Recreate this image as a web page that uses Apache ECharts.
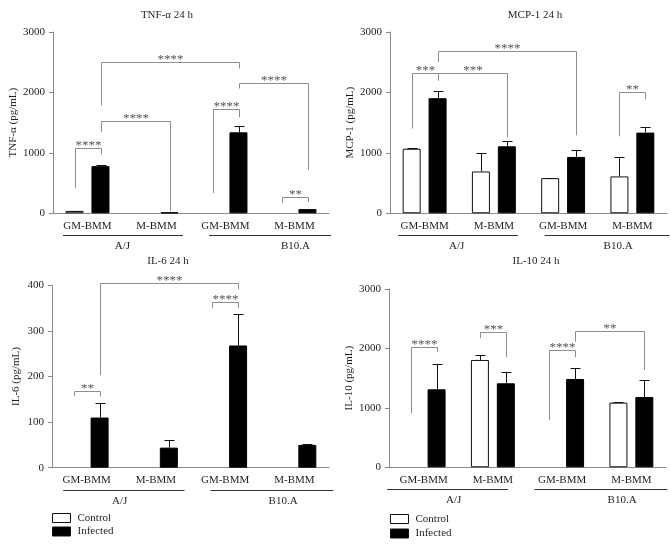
<!DOCTYPE html>
<html>
<head>
<meta charset="utf-8">
<script src="https://cdn.jsdelivr.net/npm/echarts@6/dist/echarts.min.js"></script>
<style>
html,body{margin:0;padding:0;background:#fff;}
#chart{width:671px;height:546px;}
</style>
</head>
<body>
<div id="chart"></div>
<script>
// ---------------- DATA ----------------
const categories = ['GM-BMM', 'M-BMM', 'GM-BMM', 'M-BMM'];
const strains = ['A/J', 'B10.A'];
const groupNames = ['Control', 'Infected'];
const titles = ['TNF-α 24 h', 'MCP-1 24 h', 'IL-6 24 h', 'IL-10 24 h'];
const yNames = ['TNF-α (pg/mL)', 'MCP-1 (pg/mL)', 'IL-6 (pg/mL)', 'IL-10 (pg/mL)'];
const yMax = [3000, 3000, 400, 3000];
const yInterval = [1000, 1000, 100, 1000];

// TNF-α
const tnfControl = [40, null, null, null];
const tnfControlErr = [4, null, null, null];
const tnfInfected = [780, 15, 1340, 70];
const tnfInfectedErr = [20, 4, 110, 4];
// MCP-1
const mcpControl = [1068, 692, 582, 610];
const mcpControlErr = [15, 305, 5, 320];
const mcpInfected = [1905, 1108, 933, 1335];
const mcpInfectedErr = [115, 88, 122, 85];
// IL-6
const il6Control = [null, null, null, null];
const il6ControlErr = [null, null, null, null];
const il6Infected = [110, 44, 268, 50];
const il6InfectedErr = [32, 16, 70, 2];
// IL-10
const il10Control = [null, 1806, null, 1088];
const il10ControlErr = [null, 90, null, 17];
const il10Infected = [1312, 1413, 1486, 1183];
const il10InfectedErr = [420, 185, 190, 280];

// significance brackets: [fromCat, fromGroup, toCat, toGroup, topValue, leftLegEnd, rightLegEnd, label]
const tnfBrackets = [
  [0, 0, 0, 1, 1081, 417, 977, '****'],
  [0, 1, 1, 1, 1521, 1340, 40, '****'],
  [0, 1, 2, 1, 2510, 1785, 2395, '****'],
  [2, 0, 2, 1, 1719, 335, 1587, '****'],
  [2, 1, 3, 1, 2164, 2065, 714, '****'],
  [3, 0, 3, 1, 269, 170, 186, '**']
];
const mcpBrackets = [
  [0, 0, 0, 1, 2317, 1401, 2197, '***'],
  [0, 1, 1, 1, 2317, 2197, 1263, '***'],
  [0, 1, 2, 1, 2680, 2499, 1290, '****'],
  [3, 0, 3, 1, 2004, 1274, 1884, '**']
];
const il6Brackets = [
  [0, 0, 0, 1, 169, 157, 156, '**'],
  [0, 1, 2, 1, 404, 203, 391, '****'],
  [2, 0, 2, 1, 363, 350, 350, '****']
];
const il10Brackets = [
  [0, 0, 0, 1, 2029, 909, 1945, '****'],
  [1, 0, 1, 1, 2282, 2171, 1851, '***'],
  [2, 0, 2, 1, 1974, 796, 1851, '****'],
  [2, 1, 3, 1, 2293, 2113, 1637, '**']
];

const panelData = [
  {control: tnfControl, controlErr: tnfControlErr, infected: tnfInfected, infectedErr: tnfInfectedErr, brackets: tnfBrackets},
  {control: mcpControl, controlErr: mcpControlErr, infected: mcpInfected, infectedErr: mcpInfectedErr, brackets: mcpBrackets},
  {control: il6Control, controlErr: il6ControlErr, infected: il6Infected, infectedErr: il6InfectedErr, brackets: il6Brackets},
  {control: il10Control, controlErr: il10ControlErr, infected: il10Infected, infectedErr: il10InfectedErr, brackets: il10Brackets}
];

// ---------------- LAYOUT / STYLE ----------------
const FONT = 'Liberation Serif';
const TXT = '#231f20';
const AXIS = '#8a8a8a';
const BRK = '#8f8f8f';
const layout = [
  {grid: {left: 53, top: 32, width: 276, height: 181.3}, title: [162, 5], nameGap: 31,
   spans: [[-24.5, 26.5], [-16.5, 36.5]], labelDx: [35, 70]},
  {grid: {left: 390, top: 32, width: 277, height: 181.3}, title: [530, 5], nameGap: 34,
   spans: [[-26.4, 24], [-18.4, 37]], labelDx: [32, 55]},
  {grid: {left: 52, top: 285.3, width: 277, height: 182.4}, title: [163, 251], nameGap: 30,
   spans: [[-23.4, 28.6], [-14.7, 39]], labelDx: [33, 58]},
  {grid: {left: 389, top: 289, width: 277, height: 178.3}, title: [531, 251], nameGap: 32,
   spans: [[-36.5, 15], [-27.8, 36]], labelDx: [30, 60]}
];
const legendPos = [[52, 512.5], [52, 526], [390, 513.5], [390, 528]];
const HALF = 13; // bar centre offset from category centre (barWidth 18 + gap 8)
const px = v => Math.round(v) + 0.5;

const chart = echarts.init(document.getElementById('chart'));

const grids = [], xAxes = [], yAxes = [], series = [], titleOpts = [];

layout.forEach((L, p) => {
  grids.push(L.grid);
  titleOpts.push({
    text: titles[p], left: L.title[0], top: L.title[1], textAlign: 'center',
    textStyle: {fontFamily: FONT, fontSize: 11, fontWeight: 'normal', color: TXT}
  });
  xAxes.push({
    type: 'category', gridIndex: p, data: categories,
    axisLine: {lineStyle: {color: AXIS, width: 1}},
    axisTick: {alignWithLabel: true, length: 4, lineStyle: {color: AXIS}},
    axisLabel: {fontFamily: FONT, fontSize: 11, color: TXT, margin: 7},
    splitLine: {show: false}
  });
  yAxes.push({
    type: 'value', gridIndex: p, min: 0, max: yMax[p], interval: yInterval[p],
    name: yNames[p], nameLocation: 'middle', nameGap: L.nameGap,
    nameTextStyle: {fontFamily: FONT, fontSize: 11, color: TXT},
    axisLine: {show: true, lineStyle: {color: AXIS, width: 1}},
    axisTick: {show: true, length: 4, lineStyle: {color: AXIS}},
    axisLabel: {fontFamily: FONT, fontSize: 11, color: TXT, margin: 8,
                formatter: v => String(v)},
    splitLine: {show: false}
  });

  const D = panelData[p];
  series.push({
    name: groupNames[0], type: 'bar', xAxisIndex: p, yAxisIndex: p,
    data: D.control, barWidth: 18, barGap: '44%',
    itemStyle: {color: '#ffffff', borderColor: '#111', borderWidth: 1}, z: 2
  });
  series.push({
    name: groupNames[1], type: 'bar', xAxisIndex: p, yAxisIndex: p,
    data: D.infected, barWidth: 18, barGap: '44%',
    itemStyle: {color: '#000000', borderColor: '#000', borderWidth: 1}, z: 2
  });

  [[D.control, D.controlErr, -1], [D.infected, D.infectedErr, 1]].forEach(([vals, errs, side]) => {
    const data = [];
    vals.forEach((v, i) => { if (v != null && errs[i] != null) data.push([i, v, errs[i]]); });
    series.push({
      type: 'custom', xAxisIndex: p, yAxisIndex: p, z: 3, silent: true, data,
      renderItem: (params, api) => {
        const c = api.value(0), v = api.value(1), e = api.value(2);
        const a = api.coord([c, v]), b = api.coord([c, v + e]);
        const x = px(a[0] + side * HALF);
        const yb = Math.round(b[1]) + 0.5;
        const st = {stroke: '#111', lineWidth: 1, fill: null};
        return {type: 'group', children: [
          {type: 'line', shape: {x1: x, y1: a[1], x2: x, y2: yb}, style: st},
          {type: 'line', shape: {x1: x - 5, y1: yb, x2: x + 5, y2: yb}, style: st}
        ]};
      }
    });
  });

  // significance brackets
  const br = D.brackets;
  series.push({
    type: 'custom', xAxisIndex: p, yAxisIndex: p, z: 4, silent: true, clip: false,
    data: br.map(b => [b[0], b[4]]),
    renderItem: (params, api) => {
      const b = br[params.dataIndex];
      const xa = px(api.coord([b[0], 0])[0] + (b[1] ? HALF : -HALF));
      const xb = px(api.coord([b[2], 0])[0] + (b[3] ? HALF : -HALF));
      const yt = px(api.coord([0, b[4]])[1]);
      const yl = api.coord([0, b[5]])[1];
      const yr = api.coord([0, b[6]])[1];
      return {type: 'group', children: [
        {type: 'polyline', shape: {points: [[xa, yl], [xa, yt], [xb, yt], [xb, yr]]},
         style: {stroke: BRK, lineWidth: 1, fill: null}},
        {type: 'text', x: (xa + xb) / 2, y: yt + 4,
         style: {text: b[7], align: 'center', verticalAlign: 'bottom', fill: '#555',
                 font: '13px "' + FONT + '"'}}
      ]};
    }
  });

  // strain group lines and labels
  series.push({
    type: 'custom', xAxisIndex: p, yAxisIndex: p, z: 4, silent: true, clip: false,
    data: strains.map((s, i) => [i * 2, 0]),
    renderItem: (params, api) => {
      const i = params.dataIndex;
      const c0 = api.coord([i * 2, 0]);
      const c1 = api.coord([i * 2 + 1, 0]);
      const yl = px(c0[1] + 22);
      const sp = L.spans[i];
      return {type: 'group', children: [
        {type: 'line', shape: {x1: c0[0] + sp[0], y1: yl, x2: c1[0] + sp[1], y2: yl},
         style: {stroke: '#333', lineWidth: 1}},
        {type: 'text', x: c0[0] + L.labelDx[i], y: c0[1] + 33,
         style: {text: strains[i], align: 'center', verticalAlign: 'middle', fill: TXT,
                 font: '11px "' + FONT + '"'}}
      ]};
    }
  });
});

const legends = legendPos.map((pos, k) => ({
  data: [groupNames[k % 2]], left: pos[0], top: pos[1], orient: 'vertical',
  itemWidth: 18, itemHeight: 9, icon: 'rect', selectedMode: false, padding: 0,
  itemStyle: {borderWidth: 1, borderColor: '#111'},
  textStyle: {fontFamily: FONT, fontSize: 11, color: TXT, padding: [0, 0, 0, 2]}
}));

chart.setOption({
  animation: false,
  backgroundColor: '#ffffff',
  title: titleOpts,
  legend: legends,
  grid: grids,
  xAxis: xAxes,
  yAxis: yAxes,
  series
});
</script>
</body>
</html>
